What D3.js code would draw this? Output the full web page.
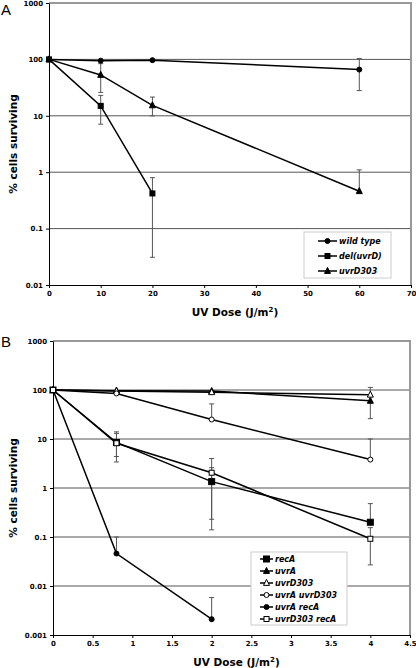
<!DOCTYPE html>
<html><head><meta charset="utf-8">
<script src="https://cdn.jsdelivr.net/npm/d3@7"></script>
<style>body{margin:0;background:#fff}svg{display:block}</style>
</head><body>
<svg id="c" width="416" height="668"></svg>
<script>
// ---------- Panel A data ----------
const doseA = [0, 10, 20, 60];
const wildType = [100, 95, 97, 66];
const wildTypeLo = [100, 95, 97, 28];
const wildTypeHi = [100, 95, 97, 104];
const delUvrD = [100, 15, 0.42];
const delUvrDLo = [100, 7.1, 0.031];
const delUvrDHi = [100, 23, 0.8];
const uvrD303A = [100, 53, 15.3, 0.46];
const uvrD303ALo = [100, 26, 10, 0.46];
const uvrD303AHi = [100, 84, 21.5, 1.1];
const xTicksA = [0, 10, 20, 30, 40, 50, 60, 70];
const yTicksA = [0.01, 0.1, 1, 10, 100, 1000];
const yLabelsA = ["0.01", "0.1", "1", "10", "100", "1000"];
const legendA = ["wild type", "del(uvrD)", "uvrD303"];

// ---------- Panel B data ----------
const doseB = [0, 0.8, 2, 4];
const recA = [100, 8.5, 1.35, 0.2];
const recALo = [100, 4.4, 0.14, 0.2];
const recAHi = [100, 14, 2.6, 0.48];
const uvrA = [100, 97, 95, 60];
const uvrALo = [100, 97, 95, 26];
const uvrAHi = [100, 97, 95, 60];
const uvrD303B = [100, 95, 90, 80];
const uvrD303BLo = [100, 95, 90, 80];
const uvrD303BHi = [100, 95, 90, 113];
const uvrAuvrD303 = [100, 85, 25, 3.8];
const uvrAuvrD303Lo = [100, 85, 25, 3.8];
const uvrAuvrD303Hi = [100, 85, 52, 10];
const uvrArecA = [100, 0.046, 0.0021];
const uvrArecALo = [100, 0.046, 0.0021];
const uvrArecAHi = [100, 0.1, 0.0058];
const uvrD303recA = [100, 8.2, 2.05, 0.092];
const uvrD303recALo = [100, 3.4, 0.23, 0.027];
const uvrD303recAHi = [100, 13, 4.0, 0.155];
const xTicksB = [0, 0.5, 1, 1.5, 2, 2.5, 3, 3.5, 4, 4.5];
const yTicksB = [0.001, 0.01, 0.1, 1, 10, 100, 1000];
const yLabelsB = ["0.001", "0.01", "0.1", "1", "10", "100", "1000"];
const legendB = ["recA", "uvrA", "uvrD303", "uvrA uvrD303", "uvrA recA", "uvrD303 recA"];

const svg = d3.select("#c");
const tickFont = "'DejaVu Sans', Verdana, sans-serif";

function mk(vals, lo, hi) {
  return vals.map((v, i) => ({i, v, lo: lo[i], hi: hi[i]}));
}

function drawMarker(g, type, x, y, s) {
  if (type === "circle" || type === "ocircle") {
    g.append("circle").attr("cx", x).attr("cy", y).attr("r", s / 2)
      .attr("fill", type === "circle" ? "#000" : "#fff").attr("stroke", "#000").attr("stroke-width", 1);
  } else if (type === "square" || type === "osquare") {
    g.append("rect").attr("x", x - s / 2).attr("y", y - s / 2).attr("width", s).attr("height", s)
      .attr("fill", type === "square" ? "#000" : "#fff").attr("stroke", "#000").attr("stroke-width", 1);
  } else {
    const h = s;
    g.append("path").attr("d", `M${x},${y - h * 0.6}L${x + s / 2},${y + h * 0.4}L${x - s / 2},${y + h * 0.4}Z`)
      .attr("fill", type === "triangle" ? "#000" : "#fff").attr("stroke", "#000").attr("stroke-width", 1);
  }
}

function panel(o) {
  const g = svg.append("g");
  const x = d3.scaleLinear().domain(o.xDomain).range([o.left, o.right]);
  const y = d3.scaleLog().domain(o.yDomain).range([o.bottom, o.top]);

  // gridlines
  g.selectAll(".grid").data(o.yTicks.slice(1, -1)).join("line")
    .attr("x1", o.left).attr("x2", o.right).attr("y1", d => y(d)).attr("y2", d => y(d))
    .attr("stroke", "#555").attr("stroke-width", 1);
  // top & right border
  g.append("path").attr("d", `M${o.left},${o.top}H${o.right}V${o.bottom}`)
    .attr("fill", "none").attr("stroke", "#999").attr("stroke-width", 2);

  // y axis
  const ya = d3.axisLeft(y).tickValues(o.yTicks).tickFormat((d, i) => o.yLabels[i]).tickSize(3).tickSizeOuter(0);
  const yg = g.append("g").attr("transform", `translate(${o.left},0)`).call(ya);
  yg.select(".domain").attr("stroke", "#000");
  yg.selectAll("text").attr("font-family", tickFont).attr("font-weight", "bold").attr("font-size", "7px").attr("x", -6);
  // x axis
  const xa = d3.axisBottom(x).tickValues(o.xTicks).tickFormat(d => d).tickSize(3).tickSizeOuter(0);
  const xg = g.append("g").attr("transform", `translate(0,${o.bottom})`).call(xa);
  xg.select(".domain").attr("stroke", "#000");
  xg.selectAll("text").attr("font-family", tickFont).attr("font-weight", "bold").attr("font-size", "7px").attr("y", 6);

  // error bars
  o.series.forEach(s => {
    const pts = mk(s.vals, s.lo, s.hi);
    pts.forEach(p => {
      const px = x(s.dose[p.i]);
      if (p.lo === p.hi) return;
      g.append("line").attr("x1", px).attr("x2", px).attr("y1", y(p.lo)).attr("y2", y(p.hi))
        .attr("stroke", "#555").attr("stroke-width", 1);
      [p.lo, p.hi].forEach(e => {
        if (e === p.v) return;
        g.append("line").attr("x1", px - 2.5).attr("x2", px + 2.5).attr("y1", y(e)).attr("y2", y(e))
          .attr("stroke", "#555").attr("stroke-width", 1);
      });
    });
  });
  // lines
  const line = d3.line().x(d => d[0]).y(d => d[1]);
  o.series.forEach(s => {
    g.append("path").attr("d", line(s.vals.map((v, i) => [x(s.dose[i]), y(v)])))
      .attr("fill", "none").attr("stroke", "#000").attr("stroke-width", 1.5);
  });
  o.series.forEach(s => {
    s.vals.forEach((v, i) => drawMarker(g, s.marker, x(s.dose[i]), y(v), s.size));
  });

  // legend
  const L = o.legend;
  g.append("rect").attr("x", L.x).attr("y", L.y).attr("width", L.w).attr("height", L.h)
    .attr("fill", "#fff").attr("stroke", "#ccc").attr("stroke-width", 1);
  o.series.forEach((s, i) => {
    const ly = L.y + L.first + i * L.step;
    g.append("line").attr("x1", L.x + L.lx0).attr("x2", L.x + L.lx1).attr("y1", ly).attr("y2", ly)
      .attr("stroke", "#000").attr("stroke-width", 1.5);
    drawMarker(g, s.marker, L.x + (L.lx0 + L.lx1) / 2, ly, s.size);
    g.append("text").attr("x", L.x + L.lx1 + 2).attr("y", ly + 3)
      .attr("font-family", tickFont).attr("font-weight", "bold").attr("font-style", "italic")
      .attr("font-size", "8px").text(s.name);
  });

  // titles
  const xt = g.append("text").attr("x", (o.left + o.right) / 2 + 5).attr("y", o.xTitleY).attr("text-anchor", "middle")
    .attr("font-family", tickFont).attr("font-weight", "bold").attr("font-size", "10.5px");
  xt.append("tspan").text("UV Dose (J/m");
  xt.append("tspan").attr("font-size", "7px").attr("dy", -4).text("2");
  xt.append("tspan").attr("dy", 4).text(")");
  g.append("text").attr("transform", `translate(17,${(o.top + o.bottom) / 2}) rotate(-90)`)
    .attr("text-anchor", "middle").attr("font-family", tickFont).attr("font-weight", "bold")
    .attr("font-size", "10.5px").text("% cells surviving");
  g.append("text").attr("x", 1).attr("y", o.labelY).attr("font-family", "'Liberation Sans', Arial, sans-serif")
    .attr("font-size", "15px").text(o.label);
}

panel({
  label: "A", labelY: 15,
  left: 49, right: 411, top: 3, bottom: 285, xTitleY: 316,
  xDomain: [0, 70], yDomain: [0.01, 1000], xTicks: xTicksA, yTicks: yTicksA, yLabels: yLabelsA,
  series: [
    {name: legendA[0], dose: doseA, vals: wildType, lo: wildTypeLo, hi: wildTypeHi, marker: "circle", size: 5},
    {name: legendA[1], dose: doseA, vals: delUvrD, lo: delUvrDLo, hi: delUvrDHi, marker: "square", size: 5},
    {name: legendA[2], dose: doseA, vals: uvrD303A, lo: uvrD303ALo, hi: uvrD303AHi, marker: "triangle", size: 6}
  ],
  legend: {x: 304, y: 232, w: 87, h: 46, first: 9, step: 15, lx0: 14, lx1: 33}
});

panel({
  label: "B", labelY: 347,
  left: 53, right: 410, top: 341, bottom: 635, xTitleY: 666,
  xDomain: [0, 4.5], yDomain: [0.001, 1000], xTicks: xTicksB, yTicks: yTicksB, yLabels: yLabelsB,
  series: [
    {name: legendB[0], dose: doseB, vals: recA, lo: recALo, hi: recAHi, marker: "square", size: 6},
    {name: legendB[1], dose: doseB, vals: uvrA, lo: uvrALo, hi: uvrAHi, marker: "triangle", size: 6},
    {name: legendB[2], dose: doseB, vals: uvrD303B, lo: uvrD303BLo, hi: uvrD303BHi, marker: "otriangle", size: 6},
    {name: legendB[3], dose: doseB, vals: uvrAuvrD303, lo: uvrAuvrD303Lo, hi: uvrAuvrD303Hi, marker: "ocircle", size: 5},
    {name: legendB[4], dose: doseB, vals: uvrArecA, lo: uvrArecALo, hi: uvrArecAHi, marker: "circle", size: 5},
    {name: legendB[5], dose: doseB, vals: uvrD303recA, lo: uvrD303recALo, hi: uvrD303recAHi, marker: "osquare", size: 5}
  ],
  legend: {x: 251, y: 552, w: 96, h: 73, first: 7, step: 12, lx0: 9, lx1: 22}
});
</script>
</body></html>
